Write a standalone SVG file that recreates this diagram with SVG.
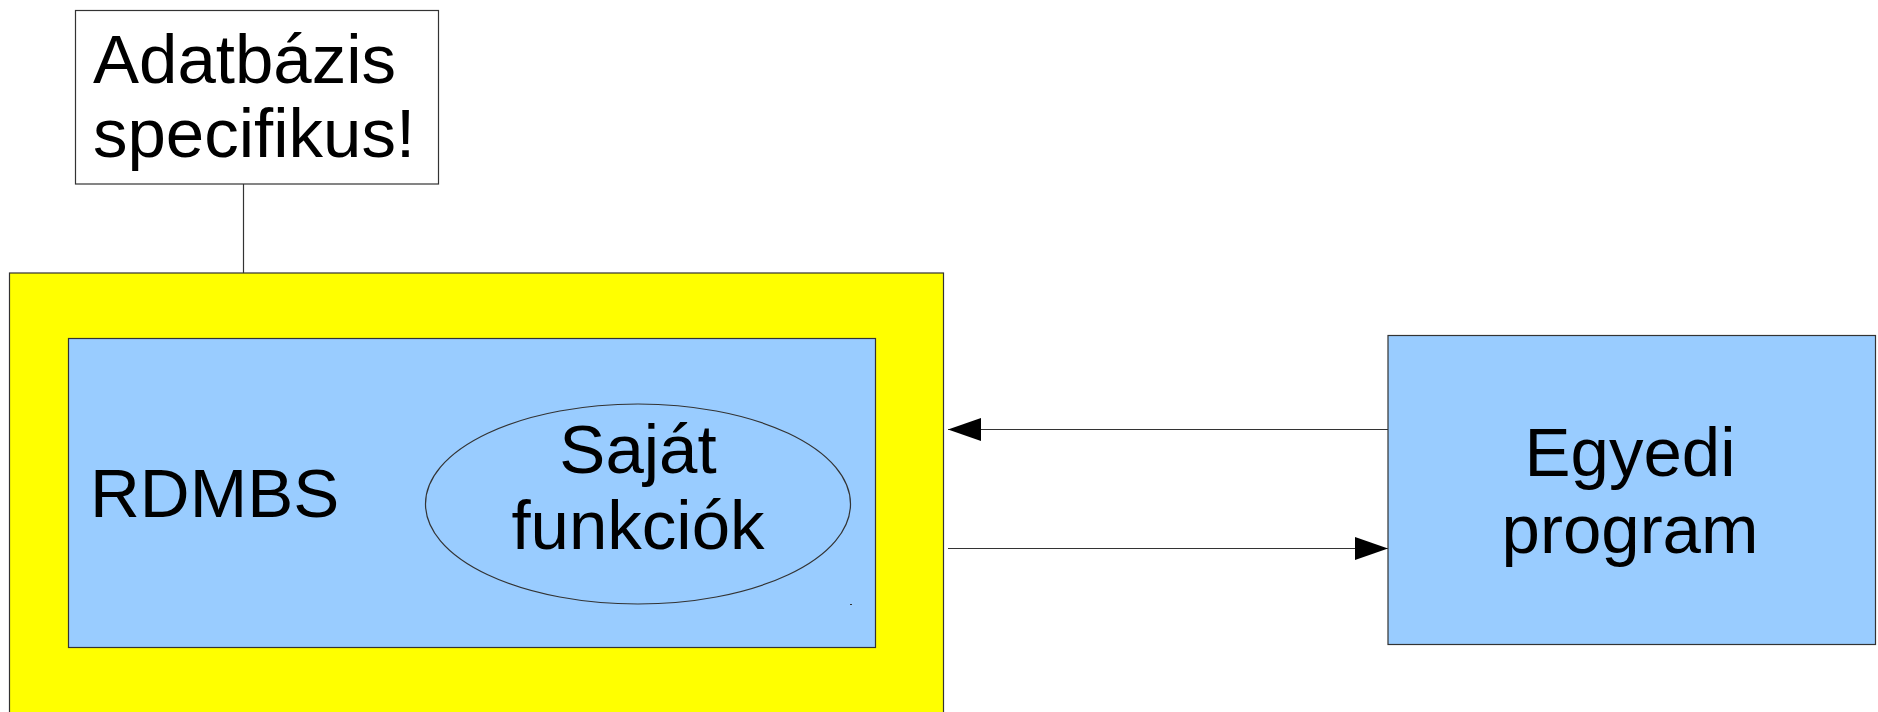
<svg xmlns="http://www.w3.org/2000/svg" width="1878" height="712" viewBox="0 0 1878 712">
<style>
.t{font-family:"Liberation Sans",Arial,sans-serif;font-size:69px;fill:#000}
.b{stroke:#333;stroke-width:1.2}
.c{stroke:#333;stroke-width:1.2;fill:none}
</style>
<defs>
<marker id="ah" markerUnits="userSpaceOnUse" markerWidth="34" markerHeight="24" refX="33" refY="11.5" orient="auto">
<path d="M0,0 L33,11.5 L0,23 Z" fill="#000"/>
</marker>
</defs>
<rect width="1878" height="712" fill="#fff"/>
<g id="connectors">
<line class="c" x1="243.5" y1="184" x2="243.5" y2="273"/>
<line class="c" x1="1388" y1="429.5" x2="948" y2="429.5" marker-end="url(#ah)"/>
<line class="c" x1="948" y1="548.5" x2="1388" y2="548.5" marker-end="url(#ah)"/>
</g>
<g id="note">
<rect class="b" x="75.5" y="10.5" width="363" height="173.5" fill="#fff"/>
<text class="t" x="93" y="83">Adatbázis</text>
<text class="t" x="93" y="157">specifikus!</text>
</g>
<g id="outer">
<rect class="b" x="9.5" y="273" width="934" height="460" fill="#ffff00"/>
</g>
<g id="rdbms">
<rect class="b" x="68.5" y="338.5" width="807" height="309" fill="#99ccff"/>
<text class="t" x="90" y="517">RDMBS</text>
</g>
<g id="sajat">
<ellipse class="b" cx="638" cy="504" rx="212.5" ry="100" fill="#99ccff"/>
<text class="t" x="638" y="473" text-anchor="middle">Saját</text>
<text class="t" x="638" y="549" text-anchor="middle">funkciók</text>
<rect x="850" y="604" width="2" height="1" fill="#333"/>
</g>
<g id="egyedi">
<rect class="b" x="1388" y="335.5" width="487.5" height="309" fill="#99ccff"/>
<text class="t" x="1630" y="476" text-anchor="middle">Egyedi</text>
<text class="t" x="1630" y="553" text-anchor="middle">program</text>
</g>
</svg>
